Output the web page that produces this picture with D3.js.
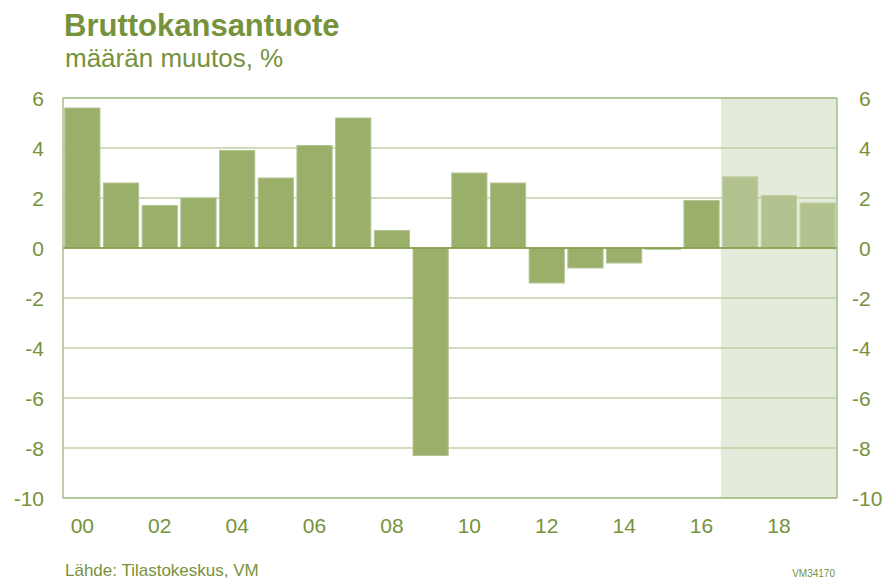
<!DOCTYPE html>
<html>
<head>
<meta charset="utf-8">
<script src="https://cdn.jsdelivr.net/npm/d3@7"></script>
<style>
  body { margin: 0; background: #fff; }
  svg { display: block; font-family: "Liberation Sans", Arial, sans-serif; }
</style>
</head>
<body>
<svg id="chart" width="892" height="580"></svg>
<script>
// BKT, määrän muutos %
const years = d3.range(2000, 2020);
const growth = [5.6, 2.6, 1.7, 2.0, 3.9, 2.8, 4.1, 5.2, 0.7, -8.3,
                3.0, 2.6, -1.4, -0.8, -0.6, -0.05, 1.9, 2.85, 2.1, 1.8];
const forecastFrom = 2017;
const yTicks = [6, 4, 2, 0, -2, -4, -6, -8, -10];
const xTickYears = [2000, 2002, 2004, 2006, 2008, 2010, 2012, 2014, 2016, 2018];

const green = '#76923c';
const svg = d3.select('#chart');
const plot = { left: 63, right: 837, top: 98, bottom: 498 };

const x = d3.scaleBand()
    .domain(years)
    .range([plot.left, plot.right])
    .paddingInner(0.09)
    .paddingOuter(0.045);
const y = d3.scaleLinear().domain([-10, 6]).range([plot.bottom, plot.top]);

// forecast shading
const shadeX = x(forecastFrom) - x.step() * x.paddingInner() / 2;
svg.append('rect')
    .attr('x', shadeX)
    .attr('y', plot.top)
    .attr('width', plot.right - shadeX)
    .attr('height', plot.bottom - plot.top)
    .attr('fill', '#e4ebda');

// gridlines
svg.append('g')
    .selectAll('line')
    .data(yTicks)
    .join('line')
    .attr('x1', plot.left).attr('x2', plot.right)
    .attr('y1', d => y(d)).attr('y2', d => y(d))
    .attr('stroke', d => d === 6 || d === -10 ? '#9db474' : '#c3d1a6')
    .attr('stroke-width', 1.3);

// bars
svg.append('g')
    .selectAll('rect')
    .data(years)
    .join('rect')
    .attr('x', d => x(d))
    .attr('width', x.bandwidth())
    .attr('y', (d, i) => y(Math.max(0, growth[i])))
    .attr('height', (d, i) => Math.abs(y(growth[i]) - y(0)))
    .attr('fill', d => d >= forecastFrom ? '#b2c38f' : '#9aaf6a')
    .attr('stroke', d => d >= forecastFrom ? '#c2cfa6' : '#b3c491')
    .attr('stroke-width', 1);

// zero line and side borders
svg.append('line')
    .attr('x1', plot.left).attr('x2', plot.right)
    .attr('y1', y(0)).attr('y2', y(0))
    .attr('stroke', '#7f9a45').attr('stroke-width', 1.5);
svg.append('g')
    .selectAll('line')
    .data([plot.left, plot.right])
    .join('line')
    .attr('x1', d => d).attr('x2', d => d)
    .attr('y1', plot.top).attr('y2', plot.bottom)
    .attr('stroke', '#9db474').attr('stroke-width', 1.3);

// y labels, both sides
const yLabels = svg.append('g')
    .attr('fill', green)
    .attr('font-size', 21);
yLabels.selectAll('text.l')
    .data(yTicks)
    .join('text')
    .attr('class', 'l')
    .attr('x', 44)
    .attr('y', d => y(d) + 8)
    .attr('text-anchor', 'end')
    .text(d => d);
yLabels.selectAll('text.r')
    .data(yTicks)
    .join('text')
    .attr('class', 'r')
    .attr('x', d => d < 0 ? 852 : 859)
    .attr('y', d => y(d) + 8)
    .attr('text-anchor', 'start')
    .text(d => d);

// x labels
svg.append('g')
    .attr('fill', green)
    .attr('font-size', 21)
    .selectAll('text')
    .data(xTickYears)
    .join('text')
    .attr('x', d => x(d) + x.bandwidth() / 2)
    .attr('y', 533)
    .attr('text-anchor', 'middle')
    .text(d => String(d).slice(2));

// titles
svg.append('text')
    .attr('x', 64).attr('y', 36)
    .attr('fill', green)
    .attr('font-size', 31)
    .attr('font-weight', 'bold')
    .text('Bruttokansantuote');
svg.append('text')
    .attr('x', 65).attr('y', 67)
    .attr('fill', green)
    .attr('font-size', 26)
    .text('määrän muutos, %');

// source notes
svg.append('text')
    .attr('x', 65).attr('y', 576)
    .attr('fill', green)
    .attr('font-size', 17)
    .text('Lähde: Tilastokeskus, VM');
svg.append('text')
    .attr('x', 835).attr('y', 577)
    .attr('fill', green)
    .attr('font-size', 10)
    .attr('text-anchor', 'end')
    .text('VM34170');
</script>
</body>
</html>
